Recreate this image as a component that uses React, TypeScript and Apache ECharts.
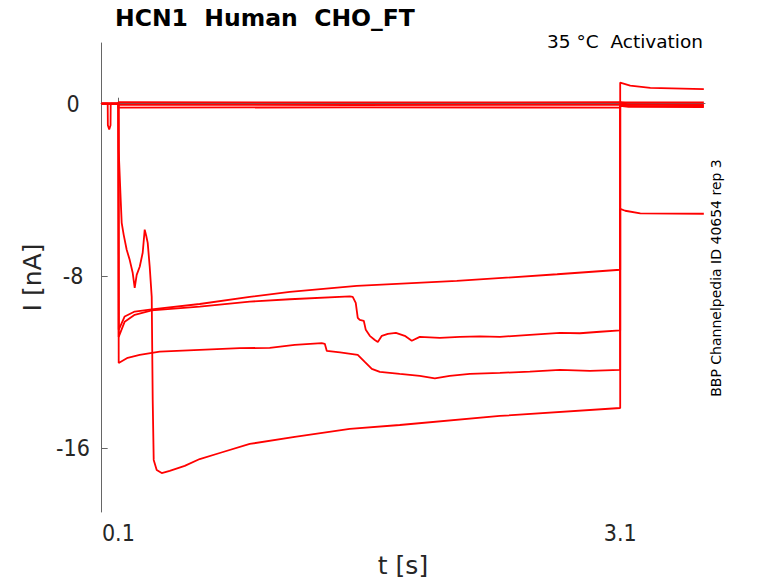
import React, { useEffect, useRef } from "react";
import * as echarts from "echarts";

// Time [s], current [nA] pairs
const traceBase1: [number, number][] = [
  [0, 0], [0.036, 0], [0.037, -1.0], [0.045, -1.2], [0.053, -1.0], [0.054, 0],
  [0.1, 0], [0.1, 0.07], [1.5, 0.06], [3.1, 0.07], [3.1, 0.1], [3.13, 0.06], [3.6, 0.06],
];
const traceBase2: [number, number][] = [
  [0, 0], [0.1, 0], [0.1, -0.05], [1.5, -0.06], [3.1, -0.05], [3.1, 0.06], [3.14, -0.03], [3.6, -0.04],
];
const traceBase3: [number, number][] = [
  [0, 0], [0.1, 0], [0.1, -0.18], [1.5, -0.17], [3.1, -0.18], [3.1, -0.1], [3.15, -0.15], [3.6, -0.16],
];
const traceC: [number, number][] = [
  [0, 0], [0.1, 0], [0.1018, -10.5], [0.1377, -9.88], [0.1975, -9.65], [0.2992, -9.55],
  [0.5862, -9.3], [0.8853, -8.97], [1.125, -8.74], [1.525, -8.46], [2.123, -8.23],
  [2.723, -7.92], [3.1, -7.71], [3.1, 0.98], [3.16, 0.84], [3.28, 0.74], [3.6, 0.68],
];
const traceD: [number, number][] = [
  [0, 0], [0.1, 0], [0.1018, -10.83], [0.1377, -10.12], [0.1975, -9.8], [0.2992, -9.6],
  [0.5862, -9.42], [0.8853, -9.19], [1.125, -9.08], [1.484, -8.95], [1.501, -8.97],
  [1.519, -9.25], [1.531, -9.94], [1.543, -10.04], [1.567, -10.08], [1.579, -10.5],
  [1.603, -10.78], [1.633, -10.97], [1.651, -11.06], [1.675, -10.78], [1.711, -10.69],
  [1.759, -10.64], [1.812, -10.78], [1.854, -11.01], [1.902, -10.83], [2.022, -10.87],
  [2.141, -10.83], [2.261, -10.8], [2.381, -10.83], [2.56, -10.73], [2.74, -10.64],
  [2.859, -10.66], [2.979, -10.59], [3.1, -10.53], [3.1, -0.03], [3.6, -0.08],
];
const traceE: [number, number][] = [
  [0, 0], [0.1, 0], [0.1018, -12.04], [0.1556, -11.8], [0.2274, -11.66], [0.347, -11.51],
  [0.5862, -11.43], [0.8255, -11.35], [1.005, -11.34], [1.1544, -11.2], [1.316, -11.12],
  [1.334, -11.15], [1.346, -11.48], [1.425, -11.55], [1.531, -11.66], [1.573, -11.99],
  [1.615, -12.31], [1.663, -12.45], [1.782, -12.55], [1.902, -12.64], [1.992, -12.75],
  [2.081, -12.64], [2.201, -12.55], [2.381, -12.5], [2.56, -12.44], [2.74, -12.36],
  [2.919, -12.41], [3.1, -12.36], [3.1, -0.1], [3.6, -0.12],
];
const traceF: [number, number][] = [
  [0, 0], [0.1, 0], [0.1018, -2.14], [0.1048, -2.74], [0.112, -4.14], [0.1197, -5.53],
  [0.1317, -6.09], [0.1496, -6.78], [0.1675, -7.25], [0.1855, -7.85], [0.1975, -8.55],
  [0.2094, -7.95], [0.2274, -7.57], [0.2453, -6.92], [0.2573, -5.85], [0.2663, -6.13],
  [0.2752, -6.46], [0.2872, -7.57], [0.2992, -8.97], [0.3051, -13.75], [0.3111, -16.54],
  [0.329, -17.01], [0.359, -17.15], [0.4068, -17.05], [0.4965, -16.82], [0.5862, -16.5],
  [0.7058, -16.22], [0.8853, -15.8], [1.1544, -15.47], [1.4833, -15.1], [1.782, -14.92],
  [2.381, -14.5], [3.1, -14.13], [3.1, -4.88], [3.13, -4.97], [3.22, -5.09], [3.6, -5.11],
];

const xTicks = [0.1, 3.1];
const yTicks = [-16, -8, 0];
const traces = [traceBase1, traceBase2, traceBase3, traceC, traceD, traceE, traceF];

const titleText = "HCN1  Human  CHO_FT";
const subtitleText = "35 °C  Activation";
const sideText = "BBP Channelpedia ID 40654 rep 3";

export default function App() {
  const ref = useRef<HTMLDivElement>(null);
  useEffect(() => {
    if (!ref.current) return;
    const chart = echarts.init(ref.current, undefined, { renderer: "svg" });
    const font = "DejaVu Sans";
    const tickFont = "'DejaVu Sans Condensed', 'DejaVu Sans'";
    chart.setOption({
      animation: false,
      backgroundColor: "#ffffff",
      grid: { left: 101, top: 43, right: 73, bottom: 71, containLabel: false },
      xAxis: {
        type: "value",
        min: -0.004,
        max: 3.607,
        name: "t [s]",
        nameLocation: "middle",
        nameGap: 41,
        nameTextStyle: { fontFamily: font, fontSize: 25, color: "#262626" },
        axisLine: { show: true, lineStyle: { color: "#666666", width: 1 } },
        axisTick: { show: true, inside: true, length: 6, customValues: xTicks, lineStyle: { color: "#666666" } },
        axisLabel: {
          customValues: xTicks,
          margin: 9,
          fontFamily: tickFont,
          fontSize: 23,
          color: "#262626",
          formatter: (v: number) => String(v),
        },
        splitLine: { show: false },
      },
      yAxis: {
        type: "value",
        min: -18.96,
        max: 2.82,
        name: "I [nA]",
        nameLocation: "middle",
        nameGap: 52,
        nameTextStyle: { fontFamily: font, fontSize: 25, color: "#262626" },
        axisLine: { show: true, lineStyle: { color: "#666666", width: 1 } },
        axisTick: { show: true, inside: true, length: 6, customValues: yTicks, lineStyle: { color: "#666666" } },
        axisLabel: {
          customValues: yTicks,
          margin: 28,
          align: "center",
          fontFamily: tickFont,
          fontSize: 23,
          color: "#262626",
          formatter: (v: number) => String(v),
        },
        splitLine: { show: false },
      },
      graphic: [
        {
          type: "text",
          left: 115,
          top: 6,
          style: { text: titleText, fontFamily: font, fontWeight: "bold", fontSize: 23.5, fill: "#000000" },
        },
        {
          type: "text",
          x: 703,
          y: 41,
          style: { text: subtitleText, fontFamily: font, fontSize: 18.5, fill: "#000000", align: "right", verticalAlign: "middle" },
        },
        {
          type: "text",
          x: 716,
          y: 278,
          rotation: Math.PI / 2,
          style: { text: sideText, fontFamily: font, fontSize: 14, fill: "#000000", align: "center", verticalAlign: "middle" },
        },
      ],
      series: traces.map((d) => ({
        type: "line",
        data: d,
        showSymbol: false,
        symbol: "none",
        clip: true,
        lineStyle: { color: "#ff0000", width: 1.8 },
        emphasis: { disabled: true },
      })),
    });
    return () => chart.dispose();
  }, []);
  return (
    <div
      ref={ref}
      style={{ position: "absolute", left: 0, top: 0, width: 778, height: 583, background: "#fff" }}
    />
  );
}
